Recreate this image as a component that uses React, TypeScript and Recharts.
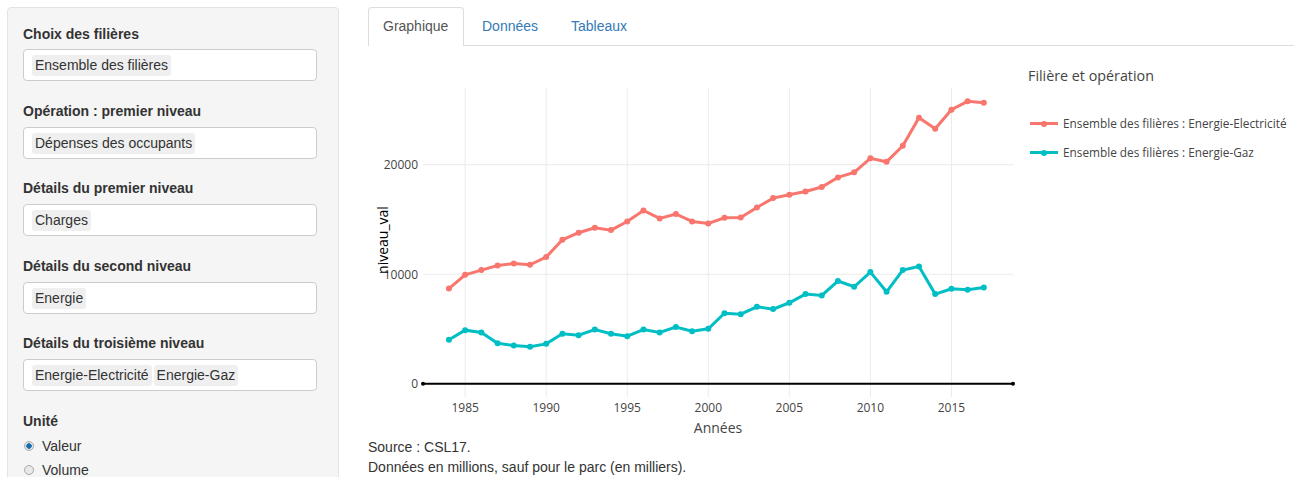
import React from 'react';
import {LineChart,Line,XAxis,YAxis,ReferenceLine,ReferenceDot} from 'recharts';

const years=[1984,1985,1986,1987,1988,1989,1990,1991,1992,1993,1994,1995,1996,1997,1998,1999,2000,2001,2002,2003,2004,2005,2006,2007,2008,2009,2010,2011,2012,2013,2014,2015,2016,2017];
const electricite=[8700,9950,10380,10800,10990,10870,11570,13150,13790,14250,14030,14820,15830,15100,15500,14820,14640,15160,15190,16100,16950,17260,17560,17960,18840,19300,20580,20270,21730,24290,23290,25020,25780,25660];
const gaz=[4020,4900,4690,3710,3500,3380,3650,4570,4440,4960,4570,4350,4960,4690,5180,4810,5020,6450,6360,7030,6820,7400,8190,8070,9380,8860,10200,8400,10380,10710,8190,8680,8580,8790];
const xTicks=[1985,1990,1995,2000,2005,2010,2015];
const yTicks=[0,10000,20000];
const seriesNames=['Ensemble des filières : Energie-Electricité','Ensemble des filières : Energie-Gaz'];
const colors=['#F8766D','#00BFC4'];
const xDomain=[1982.4,2018.8];

const fields=[
  {label:'Choix des filières',tags:['Ensemble des filières']},
  {label:'Opération : premier niveau',tags:['Dépenses des occupants']},
  {label:'Détails du premier niveau',tags:['Charges']},
  {label:'Détails du second niveau',tags:['Energie']},
  {label:'Détails du troisième niveau',tags:['Energie-Electricité','Energie-Gaz']},
];

const data=years.map((y,i)=>({annee:y,elec:electricite[i],gaz:gaz[i]}));
const sans='"Liberation Sans",Arial,Helvetica,sans-serif';
const open='"Open Sans",sans-serif';

const App:React.FC=()=>{
  return(
    <div style={{position:'absolute',left:0,top:0,width:1294,height:477,overflow:'hidden',background:'#fff',fontFamily:sans,color:'#333'}}>
      {/* sidebar */}
      <div style={{position:'absolute',left:7,top:7,width:330,height:490,background:'#f5f5f5',border:'1px solid #e3e3e3',borderRadius:4}}/>
      {fields.map((f,i)=>(
        <React.Fragment key={i}>
          <div style={{position:'absolute',left:23,top:25+i*77.2,fontSize:14,fontWeight:'bold',lineHeight:'18px',whiteSpace:'nowrap'}}>{f.label}</div>
          <div style={{position:'absolute',left:23,top:49+i*77.5,width:294,height:32,background:'#fff',border:'1px solid #ccc',borderRadius:4,boxSizing:'border-box'}}>
            <div style={{position:'absolute',left:8,top:5,display:'flex',gap:2}}>
              {f.tags.map((t,j)=>(
                <span key={j} style={{background:'#efefef',borderRadius:3,padding:'0 3px',fontSize:14,lineHeight:'21px',whiteSpace:'nowrap'}}>{t}</span>
              ))}
            </div>
          </div>
        </React.Fragment>
      ))}
      <div style={{position:'absolute',left:23,top:412,fontSize:14,fontWeight:'bold',lineHeight:'18px'}}>Unité</div>
      {['Valeur','Volume'].map((r,i)=>(
        <React.Fragment key={r}>
          <div style={{position:'absolute',left:24,top:441+i*24,width:10,height:10,borderRadius:'50%',border:'1px solid #aaa',background:i===0?'radial-gradient(circle,#1a6fb0 0 2.5px,#e8e8e8 3px)':'#e8e8e8',boxSizing:'border-box'}}/>
          <div style={{position:'absolute',left:42,top:437+i*24,fontSize:14,lineHeight:'18px'}}>{r}</div>
        </React.Fragment>
      ))}
      {/* tabs */}
      <div style={{position:'absolute',left:368,top:45,width:926,height:1,background:'#ddd'}}/>
      <div style={{position:'absolute',left:368,top:7,width:96,height:39,background:'#fff',border:'1px solid #ddd',borderBottom:'none',borderRadius:'4px 4px 0 0',boxSizing:'border-box'}}/>
      <div style={{position:'absolute',left:383,top:17,fontSize:14,lineHeight:'18px',color:'#555'}}>Graphique</div>
      <div style={{position:'absolute',left:482,top:17,fontSize:14,lineHeight:'18px',color:'#337ab7'}}>Données</div>
      <div style={{position:'absolute',left:571,top:17,fontSize:14,lineHeight:'18px',color:'#337ab7'}}>Tableaux</div>
      {/* chart */}
      <div style={{position:'absolute',left:360,top:60}}>
        <LineChart width={660} height={390} data={data} margin={{top:28,right:7,left:13,bottom:23}}>
          <XAxis dataKey="annee" type="number" domain={xDomain} ticks={xTicks} allowDataOverflow axisLine={false} tickLine={false} tickSize={0} tickMargin={6} height={30} tick={{fontSize:12,fill:'#444',fontFamily:open}}/>
          <YAxis type="number" domain={[-1200,27000]} ticks={yTicks} allowDataOverflow axisLine={false} tickLine={false} tickSize={0} tickMargin={5} width={50} tick={{fontSize:12,fill:'#444',fontFamily:open}}/>
          {/* grid at the tick values only, no frame */}
          {xTicks.map(t=><ReferenceLine key={'x'+t} x={t} stroke="#ebebeb" strokeWidth={1}/>)}
          {yTicks.map(t=><ReferenceLine key={'y'+t} y={t} stroke="#ebebeb" strokeWidth={1}/>)}
          <ReferenceLine y={0} stroke="#000" strokeWidth={2}/>
          <ReferenceDot x={xDomain[0]} y={0} r={2} fill="#000" stroke="none"/>
          <ReferenceDot x={xDomain[1]} y={0} r={2} fill="#000" stroke="none"/>
          <Line dataKey="elec" name={seriesNames[0]} stroke={colors[0]} strokeWidth={3} dot={{r:3,fill:colors[0],stroke:colors[0],strokeWidth:0}} isAnimationActive={false}/>
          <Line dataKey="gaz" name={seriesNames[1]} stroke={colors[1]} strokeWidth={3} dot={{r:3,fill:colors[1],stroke:colors[1],strokeWidth:0}} isAnimationActive={false}/>
        </LineChart>
      </div>
      <div style={{position:'absolute',left:382,top:240,transform:'translate(-50%,-50%) rotate(-90deg)',fontFamily:open,fontSize:14,color:'#000',whiteSpace:'nowrap'}}>niveau_val</div>
      <div style={{position:'absolute',left:718,top:427,transform:'translate(-50%,-50%)',fontFamily:open,fontSize:14,color:'#444',whiteSpace:'nowrap'}}>Années</div>
      {/* legend */}
      <div style={{position:'absolute',left:1028,top:67,fontFamily:open,fontSize:14.3,lineHeight:'18px',color:'#444',whiteSpace:'nowrap'}}>Filière et opération</div>
      {seriesNames.map((n,i)=>(
        <React.Fragment key={n}>
          <div style={{position:'absolute',left:1030,top:122+i*29,width:28,height:3,background:colors[i]}}/>
          <div style={{position:'absolute',left:1041,top:120.5+i*29,width:6,height:6,borderRadius:'50%',background:colors[i]}}/>
          <div style={{position:'absolute',left:1063,top:116+i*29,fontFamily:open,fontSize:11.8,lineHeight:'14px',color:'#444',whiteSpace:'nowrap'}}>{n}</div>
        </React.Fragment>
      ))}
      {/* notes */}
      <div style={{position:'absolute',left:368,top:438,fontSize:14,lineHeight:'18px',color:'#333'}}>Source : CSL17.</div>
      <div style={{position:'absolute',left:368,top:458,fontSize:14,lineHeight:'18px',color:'#333'}}>Données en millions, sauf pour le parc (en milliers).</div>
    </div>
  );
};
export default App;
